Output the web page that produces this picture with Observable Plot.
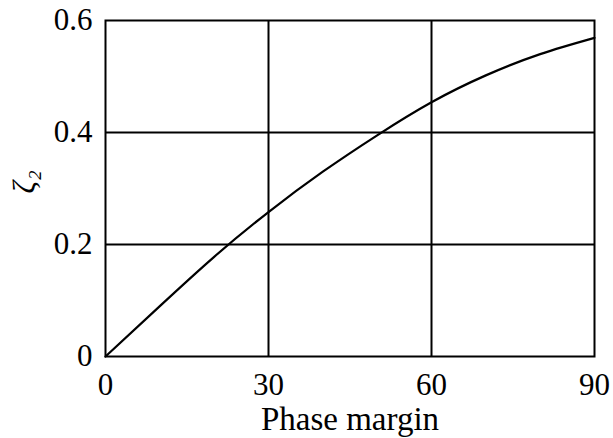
<!DOCTYPE html>
<html>
<head>
<meta charset="utf-8">
<script src="https://cdn.jsdelivr.net/npm/d3@7"></script>
<script src="https://cdn.jsdelivr.net/npm/@observablehq/plot@0.6"></script>
<style>
  html, body { margin: 0; padding: 0; background: #fff; }
  #chart svg { display: block; }
</style>
</head>
<body>
<div id="chart"></div>
<script>
const phaseMargin = [0, 10, 20, 30, 40, 50, 60, 70, 80, 90];
const zeta2 = [0, 0.090, 0.178, 0.258, 0.330, 0.395, 0.454, 0.502, 0.540, 0.569];
const xTicks = [0, 30, 60, 90];
const yTicks = [0, 0.2, 0.4, 0.6];
const yTickLabels = ["0", "0.2", "0.4", "0.6"];
const xLabel = "Phase margin";
const yLabel = "ζ₂";

const data = phaseMargin.map((p, i) => ({p, z: zeta2[i]}));

const chart = Plot.plot({
  width: 613,
  height: 438,
  marginLeft: 105,
  marginRight: 19,
  marginTop: 20,
  marginBottom: 82,
  style: {fontFamily: "'Liberation Serif', serif", fontSize: "31px", color: "#000", background: "#fff"},
  x: {domain: [0, 90], ticks: xTicks, tickSize: 0, tickPadding: 16, label: null},
  y: {domain: [0, 0.6], ticks: yTicks, tickSize: 0, tickPadding: 13, label: null,
      tickFormat: (d) => yTickLabels[yTicks.indexOf(d)]},
  marks: [
    Plot.gridX(xTicks.slice(1, -1), {stroke: "#000", strokeOpacity: 1, strokeWidth: 2}),
    Plot.gridY(yTicks.slice(1, -1), {stroke: "#000", strokeOpacity: 1, strokeWidth: 2}),
    Plot.frame({stroke: "#000", strokeWidth: 2}),
    Plot.line(data, {x: "p", y: "z", stroke: "#000", strokeWidth: 2.2, curve: "natural"}),
    Plot.text([xLabel], {frameAnchor: "bottom", lineAnchor: "top", dy: 50, fill: "#000", fontSize: 33}),
    Plot.text([yLabel], {frameAnchor: "left", dx: -80, dy: 5, rotate: -90, fill: "#000", fontStyle: "italic"})
  ]
});
document.getElementById("chart").appendChild(chart);
</script>
</body>
</html>
